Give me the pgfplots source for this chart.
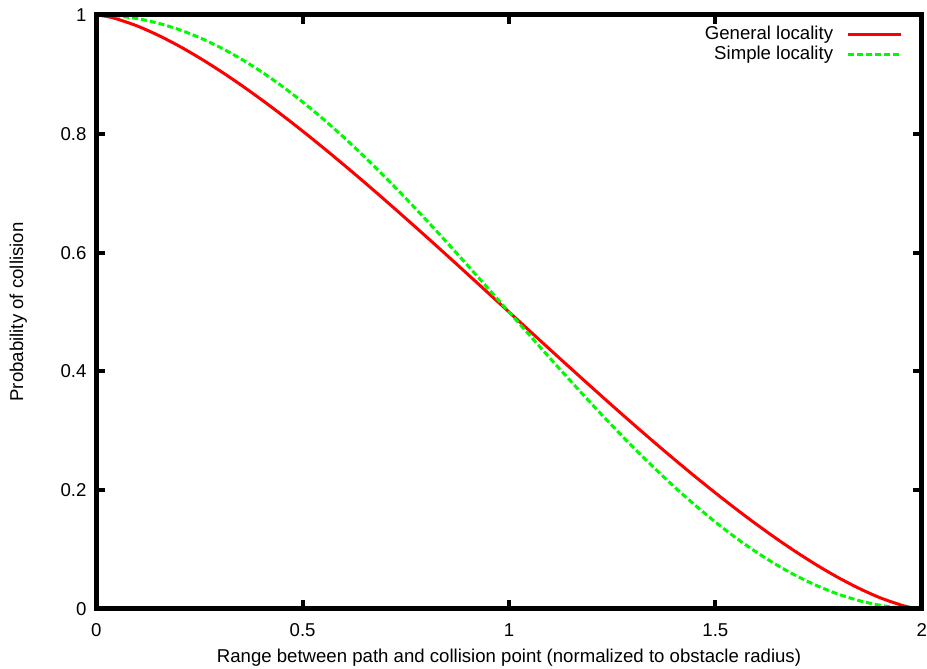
\documentclass[border=0pt]{standalone}
\usepackage{fontspec}
\setmainfont{Liberation Sans}
\usepackage{pgfplots}
\pgfplotsset{compat=1.18}
\definecolor{gred}{RGB}{255,0,0}
\definecolor{ggreen}{RGB}{0,250,0}
\newcommand{\gfont}{\fontsize{9.3}{11}\selectfont}
\begin{document}
\gfont
\begin{tikzpicture}
\begin{axis}[
  name=ax,
  scale only axis,
  width=412.7pt, height=297pt,
  xmin=0, xmax=2, ymin=0, ymax=1,
  xtick={0,0.5,1,1.5,2},
  ytick={0,0.2,0.4,0.6,0.8,1},
  tick align=inside,
  major tick length=4.5pt,
  tick style={black, line width=2pt},
  axis line style={black, line width=2.5pt, line join=miter},
  axis on top,
  /pgf/number format/assume math mode=true,
  ticklabel style={font=\gfont},
  xticklabel style={yshift=-4pt},
  yticklabel style={xshift=-1.6pt},
  xlabel={Range between path and collision point (normalized to obstacle radius)},
  ylabel={Probability of collision},
  label style={font=\gfont},
  xlabel style={at={(axis description cs:0.5,-0.0825)}, anchor=center},
  ylabel style={at={(axis description cs:-0.0945,0.5)}, anchor=center},
  legend style={draw=none, fill=none, font=\gfont, at={(1,1)}, anchor=north east,
    xshift=-9.8pt, yshift=-5.75pt, inner sep=0pt, outer sep=0pt,
    nodes={inner sep=0pt}, column sep=6.5pt, row sep=1.75pt},
  legend cell align=right,
  legend plot pos=right,
  legend image code/.code={\draw[#1] (0pt,0pt) -- (26.5pt,0pt);},
]
\addplot[gred, line width=1.5pt, no marks, smooth] coordinates {
(0,1) (0.025,0.99763) (0.05,0.99334) (0.10,0.98131) (0.15,0.96584) (0.20,0.94796)
(0.25,0.92785) (0.30,0.90594) (0.35,0.88246) (0.40,0.85762) (0.45,0.83158)
(0.50,0.80450) (0.55,0.77649) (0.60,0.74768) (0.65,0.71818) (0.70,0.68808)
(0.75,0.65748) (0.80,0.62647) (0.85,0.59513) (0.90,0.56355) (0.95,0.53182)
(1.00,0.5) (1.05,0.46818) (1.10,0.43645) (1.15,0.40487) (1.20,0.37353)
(1.25,0.34252) (1.30,0.31192) (1.35,0.28182) (1.40,0.25232) (1.45,0.22351)
(1.50,0.19550) (1.55,0.16842) (1.60,0.14238) (1.65,0.11754) (1.70,0.09406)
(1.75,0.07215) (1.80,0.05204) (1.85,0.03416) (1.90,0.01869) (1.95,0.00666)
(1.975,0.00237) (2.00,0)
};
\addlegendentry{General locality}
\addplot[ggreen, line width=1.5pt, no marks, smooth, dash pattern=on 3pt off 1.5pt] coordinates {
(0,1) (0.05,0.99846) (0.10,0.99384) (0.15,0.98619) (0.20,0.97553) (0.25,0.96194)
(0.30,0.94550) (0.35,0.92632) (0.40,0.90451) (0.45,0.88020) (0.50,0.85355)
(0.55,0.82472) (0.60,0.79389) (0.65,0.76125) (0.70,0.72700) (0.75,0.69134)
(0.80,0.65451) (0.85,0.61672) (0.90,0.57822) (0.95,0.53923) (1.00,0.5)
(1.05,0.46077) (1.10,0.42178) (1.15,0.38328) (1.20,0.34549) (1.25,0.30866)
(1.30,0.27300) (1.35,0.23875) (1.40,0.20611) (1.45,0.17528) (1.50,0.14645)
(1.55,0.11980) (1.60,0.09549) (1.65,0.07368) (1.70,0.05450) (1.75,0.03806)
(1.80,0.02447) (1.85,0.01381) (1.90,0.00616) (1.95,0.00154) (2.00,0)
};
\addlegendentry{Simple locality}
\end{axis}
\pgfresetboundingbox
\path[use as bounding box] ([xshift=-48.15pt,yshift=-30pt]ax.south west) rectangle ([xshift=2.65pt,yshift=7.5pt]ax.north east);
\end{tikzpicture}
\end{document}
